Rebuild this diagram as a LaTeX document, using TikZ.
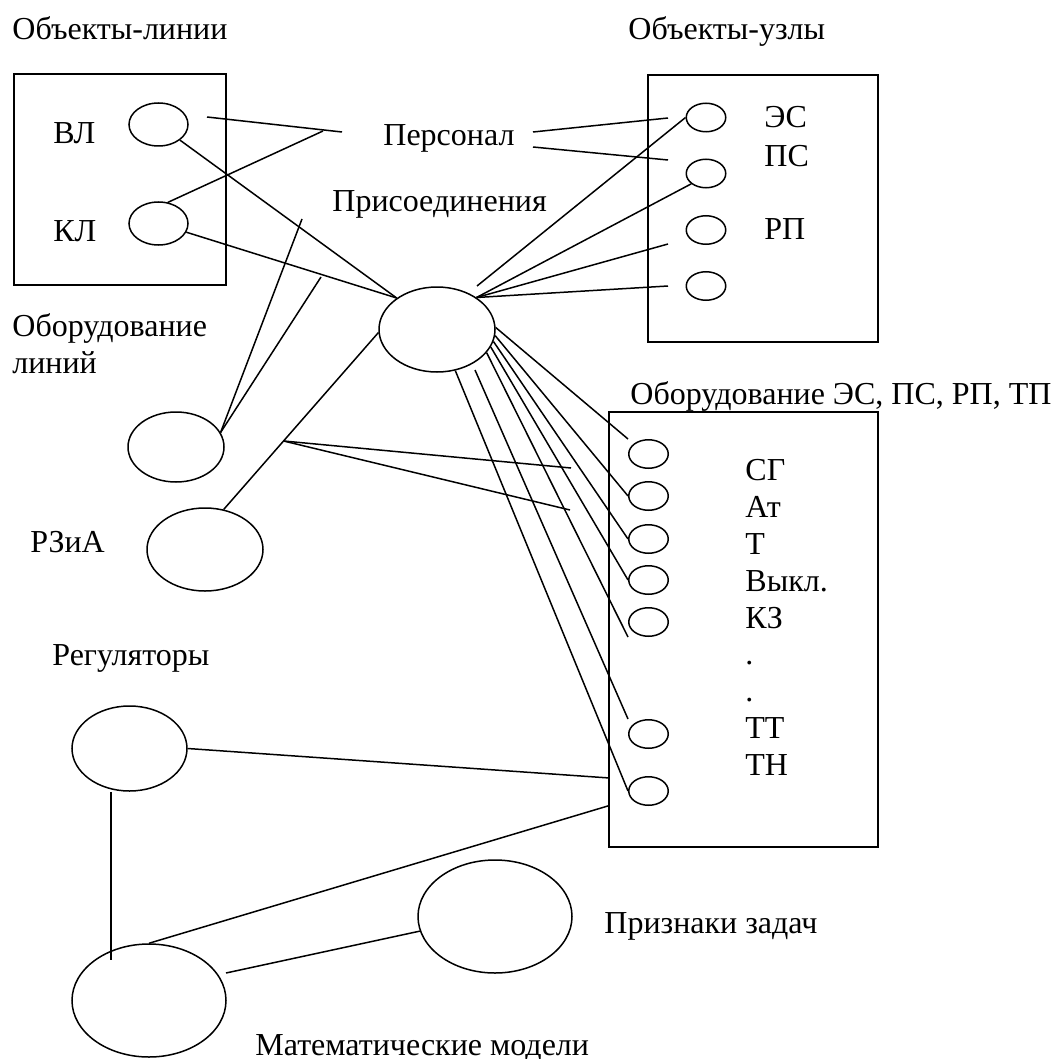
\documentclass[tikz,border=0pt]{standalone}
\usepackage{fontspec}
\setmainfont{Liberation Serif}
\usepackage{tikz}
\usetikzlibrary{shapes.geometric,calc}

\begin{document}
\begin{tikzpicture}[
    x=0.5pt,y=-0.5pt,
    font=\fontsize{16}{18.5}\selectfont,
    frame/.style={draw,line width=0.9pt,inner sep=0pt},
    oval/.style={draw,ellipse,inner sep=0pt,line width=0.75pt},
    small/.style={oval,minimum width=19.75pt,minimum height=14.25pt},
    lbl/.style={inner sep=0pt,anchor=base west},
    link/.style={line width=0.75pt}
  ]
    \useasboundingbox (0,0) rectangle (1056,1059);

    \node[lbl] (tlines) at (12,40) {Объекты-линии};
    \node[frame,minimum width=106pt,minimum height=105.5pt] (lbox) at (120,179.5) {};
    \node[lbl] (tvl) at (53,144) {ВЛ};
    \node[lbl] (tkl) at (53,242) {КЛ};
    \node[oval,minimum width=29.5pt,minimum height=21.5pt] (vl) at (158.5,124.5) {};
    \node[oval,minimum width=29.5pt,minimum height=21.5pt] (kl) at (158.5,223.5) {};

    \node[lbl] (tpers) at (383,146) {Персонал};
    \node[lbl] (tconn) at (332,212) {Присоединения};
    \node[oval,minimum width=58pt,minimum height=42.5pt] (prs) at (437,329.5) {};

    \node[lbl] (tnodes) at (628,40) {Объекты-узлы};
    \node[frame,minimum width=115pt,minimum height=133.5pt] (nbox) at (763,208.5) {};
    \node[small] (u1) at (706,117.5) {};
    \node[small] (u2) at (706,173.5) {};
    \node[small] (u3) at (706,230) {};
    \node[small] (u4) at (706,286) {};
    \node[lbl] (tes) at (764,128) {ЭС};
    \node[lbl] (tps) at (764,167) {ПС};
    \node[lbl] (trp) at (764,240) {РП};

    \node[lbl] (tleq1) at (12,336) {Оборудование};
    \node[lbl] (tleq2) at (12,373) {линий};
    \node[oval,minimum width=48pt,minimum height=35pt] (lineq) at (176,447) {};
    \node[lbl] (trza) at (30,552) {РЗиА};
    \node[oval,minimum width=58pt,minimum height=41.5pt] (rza) at (205,549.5) {};

    \node[lbl] (teq) at (630,404) {Оборудование ЭС, ПС, РП, ТП};
    \node[frame,minimum width=134.5pt,minimum height=217.5pt] (eqbox) at (743.5,629.5) {};
    \node[small] (q1) at (648.5,454) {};
    \node[small] (q2) at (648.5,496) {};
    \node[small] (q3) at (648.5,539) {};
    \node[small] (q4) at (648.5,580) {};
    \node[small] (q5) at (648.5,622) {};
    \node[small] (q6) at (648.5,734) {};
    \node[small] (q7) at (648.5,791) {};
    \node[lbl] (s1) at (745,480) {СГ};
    \node[lbl] (s2) at (745,517) {Ат};
    \node[lbl] (s3) at (745,554) {Т};
    \node[lbl] (s4) at (745,591) {Выкл.};
    \node[lbl] (s5) at (745,628) {КЗ};
    \node[lbl] (s6) at (745,664) {.};
    \node[lbl] (s7) at (745,701) {.};
    \node[lbl] (s8) at (745,738) {ТТ};
    \node[lbl] (s9) at (745,775) {ТН};

    \node[lbl] (treg) at (52,665) {Регуляторы};
    \node[oval,minimum width=57.5pt,minimum height=42.5pt] (reg) at (129.5,748.5) {};
    \node[oval,minimum width=77pt,minimum height=56.5pt] (mat) at (149,1000.5) {};
    \node[oval,minimum width=77pt,minimum height=56.5pt] (feat) at (495,916.5) {};
    \node[lbl] (tfeat) at (604,933) {Признаки задач};
    \node[lbl] (tmat) at (255,1055) {Математические модели};

    \coordinate (pa1) at (207,117);
    \coordinate (pa2) at (342,132);
    \coordinate (pb2) at (323,131);
    \coordinate (pr1) at (533,132);
    \coordinate (pr2) at (668,118);
    \coordinate (pr3) at (533,147);
    \coordinate (pr4) at (668,160);
    \coordinate (le1) at (302,219);
    \coordinate (le2) at (321,277);
    \coordinate (hub) at (477,286);
    \coordinate (nd3) at (668,244);
    \coordinate (nd4) at (668,286);
    \coordinate (jn) at ($(rza.65)!0.387!(prs.183)$);
    \coordinate (jn1) at (571,468);
    \coordinate (jn2) at (570,510);
    \coordinate (low) at (475,370);
    \coordinate (rm) at (111,960);
    \coordinate (mf) at (226,973);
    \coordinate (b3a) at ([yshift=35pt]eqbox.south west);
    \coordinate (b3b) at ([yshift=21pt]eqbox.south west);

    \draw[link] (pa1) -- (pa2);
    \draw[link] (kl.66) -- (pb2);
    \draw[link] (pr1) -- (pr2);
    \draw[link] (pr3) -- (pr4);
    \draw[link] (vl) -- (prs.142);
    \draw[link] (kl) -- (prs.142);
    \draw[link] (le1) -- (lineq.18);
    \draw[link] (le2) -- (lineq.18);
    \draw[link] (rza.65) -- (prs.183);
    \draw[link] (jn) -- (jn1);
    \draw[link] (jn) -- (jn2);
    \draw[link] (hub) -- (u1.west);
    \draw[link] (prs.39) -- (u2.215);
    \draw[link] (prs.39) -- (nd3);
    \draw[link] (prs.39) -- (nd4);
    \draw[link] (prs.2) -- (q1.west |- q1.north);
    \draw[link] (prs.-6) -- (q2.west);
    \draw[link] (prs.-12) -- (q3.west);
    \draw[link] (prs.-18) -- (q4.west);
    \draw[link] (prs.-25) -- (q5.west |- q5.south);
    \draw[link] (low) -- (q6.west |- q6.north);
    \draw[link] (prs.-66) -- (q7.west);
    \draw[link] (reg.east) -- (b3a);
    \draw[link] ([xshift=-9.25pt]reg.south) -- (rm);
    \draw[link] (mat.north) -- (b3b);
    \draw[link] (mf) -- (feat.191);
  \end{tikzpicture}
\end{document}
